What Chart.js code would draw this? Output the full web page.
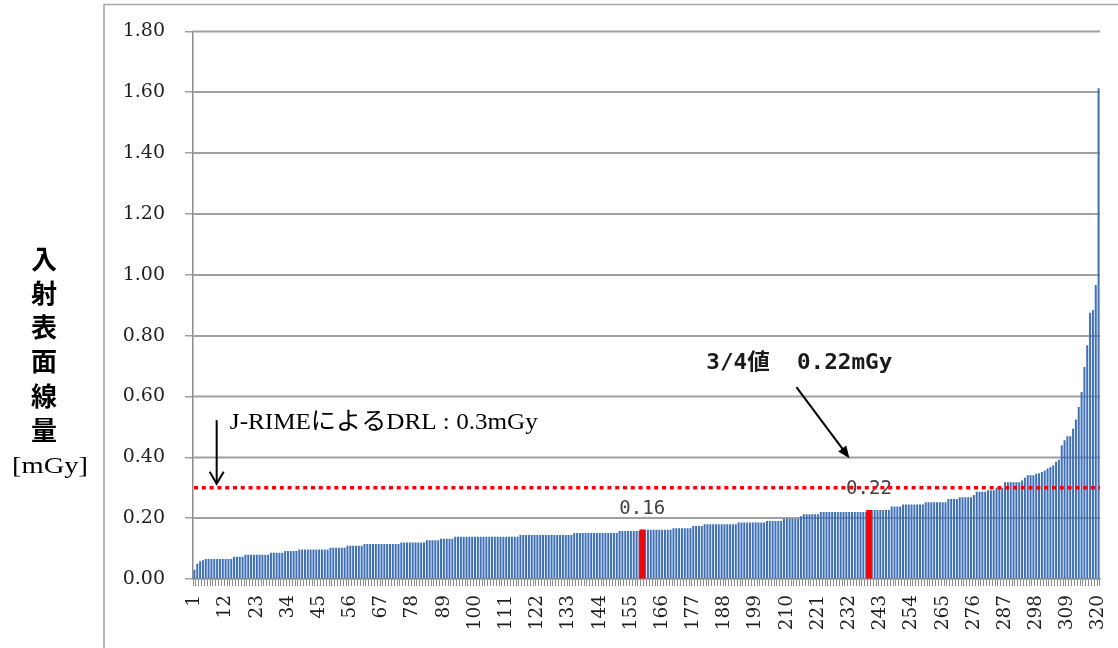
<!DOCTYPE html>
<html>
<head>
<meta charset="utf-8">
<script src="https://cdn.jsdelivr.net/npm/chart.js@4/dist/chart.umd.min.js"></script>
<style>
html,body{margin:0;padding:0;background:#fff;}
#wrap{width:1118px;height:648px;position:relative;}
</style>
</head>
<body>
<div id="wrap"><canvas id="c" width="1118" height="648"></canvas></div>
<script>
// ---- data ----
const categories = Array.from({length: 320}, (_, i) => String(i + 1));
const tickLabels = ['1','12','23','34','45','56','67','78','89','100','111','122','133','144','155',
  '166','177','188','199','210','221','232','243','254','265','276','287','298','309','320'];
const values = [
  0.03, 0.05, 0.058, 0.062, 0.066, 0.066, 0.066, 0.066, 0.066, 0.066,
  0.066, 0.066, 0.066, 0.066, 0.073, 0.073, 0.073, 0.073, 0.08, 0.08,
  0.08, 0.08, 0.08, 0.08, 0.08, 0.08, 0.08, 0.086, 0.086, 0.086,
  0.086, 0.086, 0.092, 0.092, 0.092, 0.092, 0.092, 0.097, 0.097, 0.097,
  0.097, 0.097, 0.097, 0.097, 0.097, 0.097, 0.097, 0.097, 0.103, 0.103,
  0.103, 0.103, 0.103, 0.103, 0.109, 0.109, 0.109, 0.109, 0.109, 0.109,
  0.115, 0.115, 0.115, 0.115, 0.115, 0.115, 0.115, 0.115, 0.115, 0.115,
  0.115, 0.115, 0.115, 0.12, 0.12, 0.12, 0.12, 0.12, 0.12, 0.12,
  0.12, 0.12, 0.127, 0.127, 0.127, 0.127, 0.127, 0.132, 0.132, 0.132,
  0.132, 0.132, 0.139, 0.139, 0.139, 0.139, 0.139, 0.139, 0.139, 0.139,
  0.139, 0.139, 0.139, 0.139, 0.139, 0.139, 0.139, 0.139, 0.139, 0.139,
  0.139, 0.139, 0.139, 0.139, 0.139, 0.145, 0.145, 0.145, 0.145, 0.145,
  0.145, 0.145, 0.145, 0.145, 0.145, 0.145, 0.145, 0.145, 0.145, 0.145,
  0.145, 0.145, 0.145, 0.145, 0.151, 0.151, 0.151, 0.151, 0.151, 0.151,
  0.151, 0.151, 0.151, 0.151, 0.151, 0.151, 0.151, 0.151, 0.151, 0.151,
  0.158, 0.158, 0.158, 0.158, 0.158, 0.158, 0.158, 0.158, 0.162, 0.162,
  0.162, 0.162, 0.162, 0.162, 0.162, 0.162, 0.162, 0.162, 0.162, 0.167,
  0.167, 0.167, 0.167, 0.167, 0.167, 0.167, 0.174, 0.174, 0.174, 0.174,
  0.18, 0.18, 0.18, 0.18, 0.18, 0.18, 0.18, 0.18, 0.18, 0.18,
  0.18, 0.18, 0.186, 0.186, 0.186, 0.186, 0.186, 0.186, 0.186, 0.186,
  0.186, 0.186, 0.191, 0.191, 0.191, 0.191, 0.191, 0.191, 0.198, 0.198,
  0.198, 0.198, 0.198, 0.198, 0.206, 0.213, 0.213, 0.213, 0.213, 0.213,
  0.213, 0.22, 0.22, 0.22, 0.22, 0.22, 0.22, 0.22, 0.22, 0.22,
  0.22, 0.22, 0.22, 0.22, 0.22, 0.22, 0.22, 0.22, 0.226, 0.227,
  0.227, 0.227, 0.227, 0.227, 0.227, 0.227, 0.238, 0.238, 0.238, 0.238,
  0.245, 0.245, 0.245, 0.245, 0.245, 0.245, 0.245, 0.245, 0.252, 0.252,
  0.252, 0.252, 0.252, 0.252, 0.252, 0.252, 0.263, 0.263, 0.263, 0.263,
  0.269, 0.269, 0.269, 0.269, 0.269, 0.276, 0.287, 0.287, 0.287, 0.287,
  0.292, 0.292, 0.292, 0.30, 0.30, 0.30, 0.318, 0.318, 0.318, 0.318,
  0.318, 0.318, 0.324, 0.333, 0.341, 0.341, 0.341, 0.346, 0.348, 0.352,
  0.357, 0.363, 0.368, 0.374, 0.385, 0.392, 0.44, 0.456, 0.469, 0.469,
  0.494, 0.524, 0.565, 0.615, 0.697, 0.768, 0.875, 0.884, 0.966, 1.613
];
const highlightCategories = ['159', '239'];
const highlightLabels = ['0.16', '0.22'];
const drlValue = 0.3;
const yAxisTitle = ['入','射','表','面','線','量'];
const yAxisUnit = '[mGy]';
const drlText = 'J-RIMEによるDRL : 0.3mGy';
const q3Text = '3/4値  0.22mGy';

const highlightValues = categories.map((c, i) => highlightCategories.includes(c) ? values[i] : null);

function arrow(ctx, x1, y1, x2, y2, filled) {
  const ang = Math.atan2(y2 - y1, x2 - x1);
  const len = 12, half = filled ? 5 : 7;
  ctx.save();
  ctx.strokeStyle = '#000'; ctx.fillStyle = '#000'; ctx.lineWidth = 2;
  ctx.beginPath();
  ctx.moveTo(x1, y1);
  ctx.lineTo(filled ? x2 - Math.cos(ang) * len * 0.6 : x2, filled ? y2 - Math.sin(ang) * len * 0.6 : y2);
  ctx.stroke();
  const bx = x2 - Math.cos(ang) * len, by = y2 - Math.sin(ang) * len;
  const px = -Math.sin(ang) * half, py = Math.cos(ang) * half;
  ctx.beginPath();
  ctx.moveTo(bx + px, by + py);
  ctx.lineTo(x2, y2);
  ctx.lineTo(bx - px, by - py);
  if (filled) { ctx.closePath(); ctx.fill(); } else { ctx.stroke(); }
  ctx.restore();
}

function fitText(ctx, text, x, y, font, width) {
  ctx.save();
  ctx.font = font;
  const w = ctx.measureText(text).width;
  const s = width ? width / w : 1;
  ctx.translate(x, y);
  ctx.scale(s, 1);
  ctx.fillText(text, 0, 0);
  ctx.restore();
}

const annotations = {
  id: 'annotations',
  beforeDatasetsDraw(chart) {
    const ctx = chart.ctx;
    const ys = chart.scales.y, area = chart.chartArea;
    ctx.save();
    ctx.strokeStyle = '#a0a0a0'; ctx.lineWidth = 1.5;
    ys.ticks.forEach(t => {
      if (t.value === 0) return;
      const y = Math.round(ys.getPixelForValue(t.value)) + 0.25;
      ctx.beginPath(); ctx.moveTo(area.left, y); ctx.lineTo(area.right, y); ctx.stroke();
    });
    ctx.restore();
  },
  afterDatasetsDraw(chart) {
    const ctx = chart.ctx;
    const xs = chart.scales.x, ys = chart.scales.y;
    const area = chart.chartArea;
    const meta = chart.getDatasetMeta(1);

    // data labels on highlighted bars
    ctx.save();
    ctx.fillStyle = '#404040';
    ctx.font = '19px "DejaVu Sans Mono"';
    ctx.textAlign = 'center'; ctx.textBaseline = 'middle';
    highlightCategories.forEach((c, k) => {
      const el = meta.data[categories.indexOf(c)];
      ctx.fillText(highlightLabels[k], el.x, el.y - 21);
    });
    ctx.restore();

    // DRL dotted line
    const yd = ys.getPixelForValue(drlValue);
    ctx.save();
    ctx.strokeStyle = '#ff0000'; ctx.lineWidth = 3.5;
    ctx.setLineDash([4, 3.8]);
    ctx.beginPath(); ctx.moveTo(area.left + 1, yd); ctx.lineTo(area.right, yd); ctx.stroke();
    ctx.restore();

    // annotation texts
    ctx.save();
    ctx.fillStyle = '#000'; ctx.textBaseline = 'middle'; ctx.textAlign = 'left';
    fitText(ctx, drlText, xs.getPixelForValue(12.5), ys.getPixelForValue(0.515),
      '24px "Liberation Serif", "Noto Sans CJK JP"', 308);
    ctx.fillStyle = '#1a1a1a';
    fitText(ctx, q3Text, xs.getPixelForValue(180.6), ys.getPixelForValue(0.71),
      'bold 22px "DejaVu Sans Mono", "Noto Sans CJK JP"', 186);
    ctx.restore();

    arrow(ctx, xs.getPixelForValue(7.85), ys.getPixelForValue(0.522),
      xs.getPixelForValue(7.85), ys.getPixelForValue(0.313), false);
    arrow(ctx, xs.getPixelForValue(212.4), ys.getPixelForValue(0.631),
      xs.getPixelForValue(231.1), ys.getPixelForValue(0.397), true);
  },
  afterDraw(chart) {
    const ctx = chart.ctx;
    // outer frame
    ctx.save();
    ctx.strokeStyle = '#a6a6a6'; ctx.lineWidth = 1.5;
    ctx.strokeRect(104, 4.5, 1100, 700);
    ctx.restore();
    // y axis title (vertical)
    ctx.save();
    ctx.fillStyle = '#000'; ctx.textAlign = 'center'; ctx.textBaseline = 'middle';
    ctx.font = 'bold 26px "Noto Sans CJK JP"';
    yAxisTitle.forEach((ch, i) => ctx.fillText(ch, 44, 259 + i * 34.2));
    ctx.textAlign = 'left';
    fitText(ctx, yAxisUnit, 12, 467, '24px "Liberation Serif"', 76);
    ctx.restore();
  }
};

new Chart(document.getElementById('c'), {
  type: 'bar',
  data: {
    labels: categories,
    datasets: [
      { data: values, backgroundColor: '#3f70b6', barPercentage: 0.7, categoryPercentage: 1,
        grouped: false, order: 1 },
      { data: highlightValues, backgroundColor: '#ff0000', barThickness: 5,
        grouped: false, order: 0 }
    ]
  },
  options: {
    responsive: false,
    animation: false,
    events: [],
    layout: { padding: { left: 104, top: 31, right: 18, bottom: 0 } },
    plugins: { legend: { display: false }, tooltip: { enabled: false } },
    scales: {
      x: {
        afterFit(scale) { scale.height = 69; scale.paddingRight = 0; scale.paddingLeft = 0; },
        grid: { display: true, drawOnChartArea: false, drawTicks: true, tickLength: 7,
          color: '#8c8c8c', lineWidth: 1 },
        border: { color: '#8c8c8c', width: 1.5 },
        ticks: {
          autoSkip: false, minRotation: 90, maxRotation: 90, padding: 9,
          color: '#1f1f1f', font: { family: '"DejaVu Serif"', size: 18.5 },
          callback(v, i) { const l = categories[i]; return tickLabels.includes(l) ? l : ''; }
        }
      },
      y: {
        min: 0, max: 1.8,
        afterFit(scale) { scale.width = 89; },
        grid: { color: '#a0a0a0', lineWidth: 1.5, drawTicks: true, tickLength: 8 },
        border: { color: '#8c8c8c', width: 1.5 },
        ticks: {
          stepSize: 0.2, padding: 20, color: '#1f1f1f',
          font: { family: '"DejaVu Serif"', size: 19 },
          callback(v) { return Number(v).toFixed(2); }
        }
      }
    }
  },
  plugins: [annotations]
});
</script>
</body>
</html>
